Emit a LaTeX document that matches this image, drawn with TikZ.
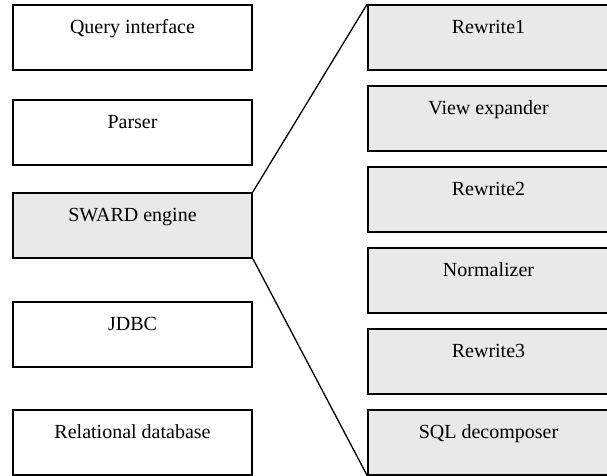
\documentclass[tikz,border=0pt]{standalone}
\usepackage{fontspec}
\setmainfont{Liberation Serif}
\definecolor{boxgrey}{HTML}{E9E9E9}
\begin{document}
\begin{tikzpicture}[x=1pt,y=-1pt,
  blk/.style={draw=black, line width=1.6pt, rectangle, inner sep=0pt,
    minimum width=#1, text height=29pt, text depth=36pt,
    font=\fontsize{20}{21}\selectfont, anchor=north},
  blk/.default=239pt,
  gblk/.style={blk=#1, fill=boxgrey},
  gblk/.default=241pt,
  conn/.style={draw=black, line width=1.3pt}]
\useasboundingbox (0,0) rectangle (607,475);
\node[blk] (qi) at (132.5,4) {Query interface};
\node[blk] (pa) at (132.5,99) {Parser};
\node[gblk=239pt] (sw) at (132.5,192) {SWARD engine};
\node[blk] (jd) at (132.5,301) {JDBC};
\node[blk] (rd) at (132.5,409) {Relational database};
\node[gblk] (r1) at (488.5,4) {Rewrite1};
\node[gblk] (ve) at (488.5,85) {View expander};
\node[gblk] (r2) at (488.5,166) {Rewrite2};
\node[gblk] (no) at (488.5,247) {Normalizer};
\node[gblk] (r3) at (488.5,328) {Rewrite3};
\node[gblk] (sq) at (488.5,409) {SQL decomposer};
\draw[conn] (sw.north east) -- (r1.north west);
\draw[conn] (sw.south east) -- (sq.south west);
\end{tikzpicture}
\end{document}
